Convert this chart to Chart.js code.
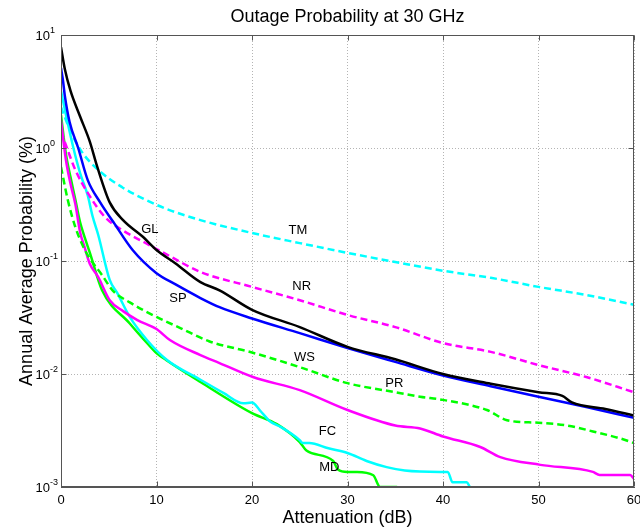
<!DOCTYPE html>
<html><head><meta charset="utf-8">
<script src="https://cdn.jsdelivr.net/npm/chart.js@4/dist/chart.umd.min.js"></script>
<style>html,body{margin:0;padding:0;background:#fff}</style>
</head><body>
<canvas id="c" width="640" height="528"></canvas>
<script>
// ---- data (attenuation in dB, annual probability in %) ----
const GL_dB = [0,0.4,1,2,3,3.8,5.1,6.5,8.6,10,12,14.6,16.6,20,25,30,35,40,45,50,52.5,53.5,57,60];
const GL_p  = [7.8,5.0,3.2,1.9,1.15,0.68,0.33,0.23,0.163,0.125,0.095,0.065,0.055,0.037,0.026,0.0174,0.0135,0.0100,0.0082,0.0069,0.0064,0.0056,0.0049,0.0043];

const SP_dB = [0,0.2,0.4,0.9,1.8,2.8,4.1,5.5,7.5,10,12,14.6,16.6,20,25,30,35,40,45,50,55,60];
const SP_p  = [5.1,4.0,2.9,1.7,1.0,0.52,0.33,0.22,0.125,0.078,0.062,0.047,0.039,0.031,0.023,0.017,0.0128,0.0097,0.0078,0.0063,0.0051,0.0041];

const TM_dB = [0,1,2.2,3.9,6.4,8.8,11,14.6,20,25,30,35,40,45,50,55,60];
const TM_p  = [2.3,1.4,0.92,0.64,0.45,0.35,0.29,0.23,0.177,0.144,0.118,0.098,0.082,0.071,0.059,0.050,0.041];

const NR_dB = [0,0.7,1.5,2.8,4.6,6.4,8.8,11,14.6,20,25,30,35,40,45,50,55,60];
const NR_p  = [1.4,0.96,0.64,0.4,0.245,0.188,0.145,0.115,0.08,0.059,0.045,0.0333,0.026,0.0188,0.0157,0.012,0.0094,0.0069];

const WS_dB = [0,0.7,1.5,2.5,3.2,4.3,5.4,7.2,10,12.5,15.5,20,25,30,35,37.6,40,44.6,46.7,50,53,55.7,58.5,60];
const WS_p  = [0.68,0.35,0.2,0.125,0.1,0.075,0.055,0.043,0.032,0.0255,0.0195,0.0155,0.0115,0.0083,0.0069,0.0063,0.0059,0.0048,0.0039,0.0037,0.0035,0.0031,0.0027,0.00245];

const PR_dB = [0,0.5,1,1.5,2,2.5,3,3.9,5.1,6.5,8,10,11.4,14.6,16.6,20.1,25,30,35,37.6,40,43.9,46,50.2,55.7,56.4,59.6,60];
const PR_p  = [1.75,0.8,0.48,0.32,0.18,0.13,0.095,0.072,0.045,0.036,0.030,0.025,0.020,0.0147,0.0125,0.0094,0.0072,0.0048,0.0035,0.0033,0.0028,0.00226,0.00184,0.00157,0.00136,0.00128,0.00128,0.00118];

const FC_dB = [0,0.5,1.3,2,2.8,3.3,3.9,5.1,5.9,7.2,9,11.1,14.6,17,19.1,20,20.8,21.9,23,25,25.3,26,28,30,32,34.1,36,39.7,40.5,41,42.5,42.8];
const FC_p  = [3.2,2.0,1.0,0.6,0.38,0.25,0.17,0.068,0.052,0.032,0.02,0.0133,0.0089,0.0068,0.0055,0.0056,0.0048,0.0038,0.0034,0.0026,0.00245,0.00245,0.0022,0.002,0.0017,0.0015,0.0014,0.00136,0.00136,0.0011,0.0011,0.001];

const MD_dB = [0,0.5,1,1.5,2,2.5,3,4.3,7.2,9,10,11,14.6,20,22.6,25,25.7,28.5,29,30,31,32.7,33.4,35.2];
const MD_p  = [1.96,0.9,0.55,0.35,0.22,0.16,0.12,0.055,0.028,0.0188,0.0153,0.0133,0.0085,0.0045,0.0036,0.0025,0.0021,0.0017,0.00143,0.00136,0.00136,0.00127,0.001,0.001];

const xTicks = [0,10,20,30,40,50,60];
const yTicks = [1e-3,1e-2,1e-1,1,10];
const yTickExp = ['-3','-2','-1','0','1'];

const curveNames = ['GL','SP','TM','NR','WS','PR','FC','MD'];
const labelX = [9.3,12.25,24.8,25.2,25.5,34.9,27.9,28.1];
const labelY = [0.192,0.047,0.188,0.059,0.0139,0.0082,0.0031,0.0015];

const FONT = "'Liberation Sans', Arial, Helvetica, sans-serif";

function pts(xs, ys){ return xs.map((v,i)=>({x:v,y:ys[i]})); }
function ds(label, xs, ys, color, dashed){
  return {label, data:pts(xs,ys), borderColor:color, backgroundColor:color,
    borderWidth:2.5, borderDash: dashed?[7,4]:[], pointRadius:0,
    cubicInterpolationMode:'monotone', fill:false};
}

const datasets = [
  ds('GL', GL_dB, GL_p, '#000000', false),
  ds('SP', SP_dB, SP_p, '#0000ff', false),
  ds('TM', TM_dB, TM_p, '#00ffff', true),
  ds('NR', NR_dB, NR_p, '#ff00ff', true),
  ds('WS', WS_dB, WS_p, '#00ff00', true),
  ds('PR', PR_dB, PR_p, '#ff00ff', false),
  ds('FC', FC_dB, FC_p, '#00ffff', false),
  ds('MD', MD_dB, MD_p, '#00ff00', false)
];

const decor = {
  id:'decor',
  afterDraw(chart){
    const {ctx, chartArea:a, scales:{x,y}} = chart;
    ctx.save();
    const L=Math.round(a.left)+0.5, R=Math.round(a.right)-0.5, T=Math.round(a.top)+0.5, B=Math.round(a.bottom)-0.5;
    ctx.strokeStyle='#555'; ctx.lineWidth=1; ctx.setLineDash([]);
    ctx.strokeRect(L,T,R-L,B-T);
    ctx.beginPath();
    xTicks.forEach(v=>{const px=Math.round(x.getPixelForValue(v))+0.5;
      ctx.moveTo(px,B); ctx.lineTo(px,B-5); ctx.moveTo(px,T); ctx.lineTo(px,T+5);});
    yTicks.forEach(v=>{const py=Math.round(y.getPixelForValue(v))+0.5;
      ctx.moveTo(L,py); ctx.lineTo(L+5,py); ctx.moveTo(R,py); ctx.lineTo(R-5,py);});
    ctx.stroke();
    ctx.fillStyle='#000';
    // y tick labels 10^n
    yTicks.forEach((v,i)=>{
      const py=y.getPixelForValue(v);
      ctx.font='13px '+FONT; ctx.textAlign='right'; ctx.textBaseline='middle';
      ctx.fillText('10', a.left-11, py+1);
      ctx.font='9px '+FONT; ctx.textAlign='left';
      ctx.fillText(yTickExp[i], a.left-11, py-4);
    });
    // x tick labels
    ctx.font='13px '+FONT; ctx.textAlign='center'; ctx.textBaseline='middle';
    xTicks.forEach(v=>ctx.fillText(String(v), x.getPixelForValue(v), 500));
    // curve labels
    curveNames.forEach((n,i)=>ctx.fillText(n, x.getPixelForValue(labelX[i]), y.getPixelForValue(labelY[i])));
    // title and axis titles
    ctx.font='18px '+FONT;
    ctx.fillText('Outage Probability at 30 GHz', (a.left+a.right)/2, 17);
    ctx.fillText('Attenuation (dB)', (a.left+a.right)/2, 518);
    ctx.translate(27,(a.top+a.bottom)/2); ctx.rotate(-Math.PI/2);
    ctx.fillText('Annual Average Probability (%)', 0, 0);
    ctx.restore();
  }
};

new Chart(document.getElementById('c'), {
  type:'line',
  data:{datasets},
  plugins:[decor],
  options:{
    responsive:false, animation:false, devicePixelRatio:1,
    layout:{padding:{left:0,right:6,top:35,bottom:0}},
    plugins:{legend:{display:false}, tooltip:{enabled:false}, title:{display:false}},
    scales:{
      x:{type:'linear', min:0, max:60,
        afterBuildTicks:s=>{s.ticks=xTicks.map(v=>({value:v}));},
        afterFit:s=>{s.height=41;},
        ticks:{display:false},
        grid:{color:'#b4b4b4', lineWidth:1, drawTicks:false},
        border:{display:true, color:'#555', dash:[1,2]}
      },
      y:{type:'logarithmic', min:1e-3, max:10,
        afterBuildTicks:s=>{s.ticks=yTicks.map(v=>({value:v}));},
        afterFit:s=>{s.width=61;},
        ticks:{display:false},
        grid:{color:'#b4b4b4', lineWidth:1, drawTicks:false},
        border:{display:true, color:'#555', dash:[1,2]}
      }
    }
  }
});
</script>
</body></html>
